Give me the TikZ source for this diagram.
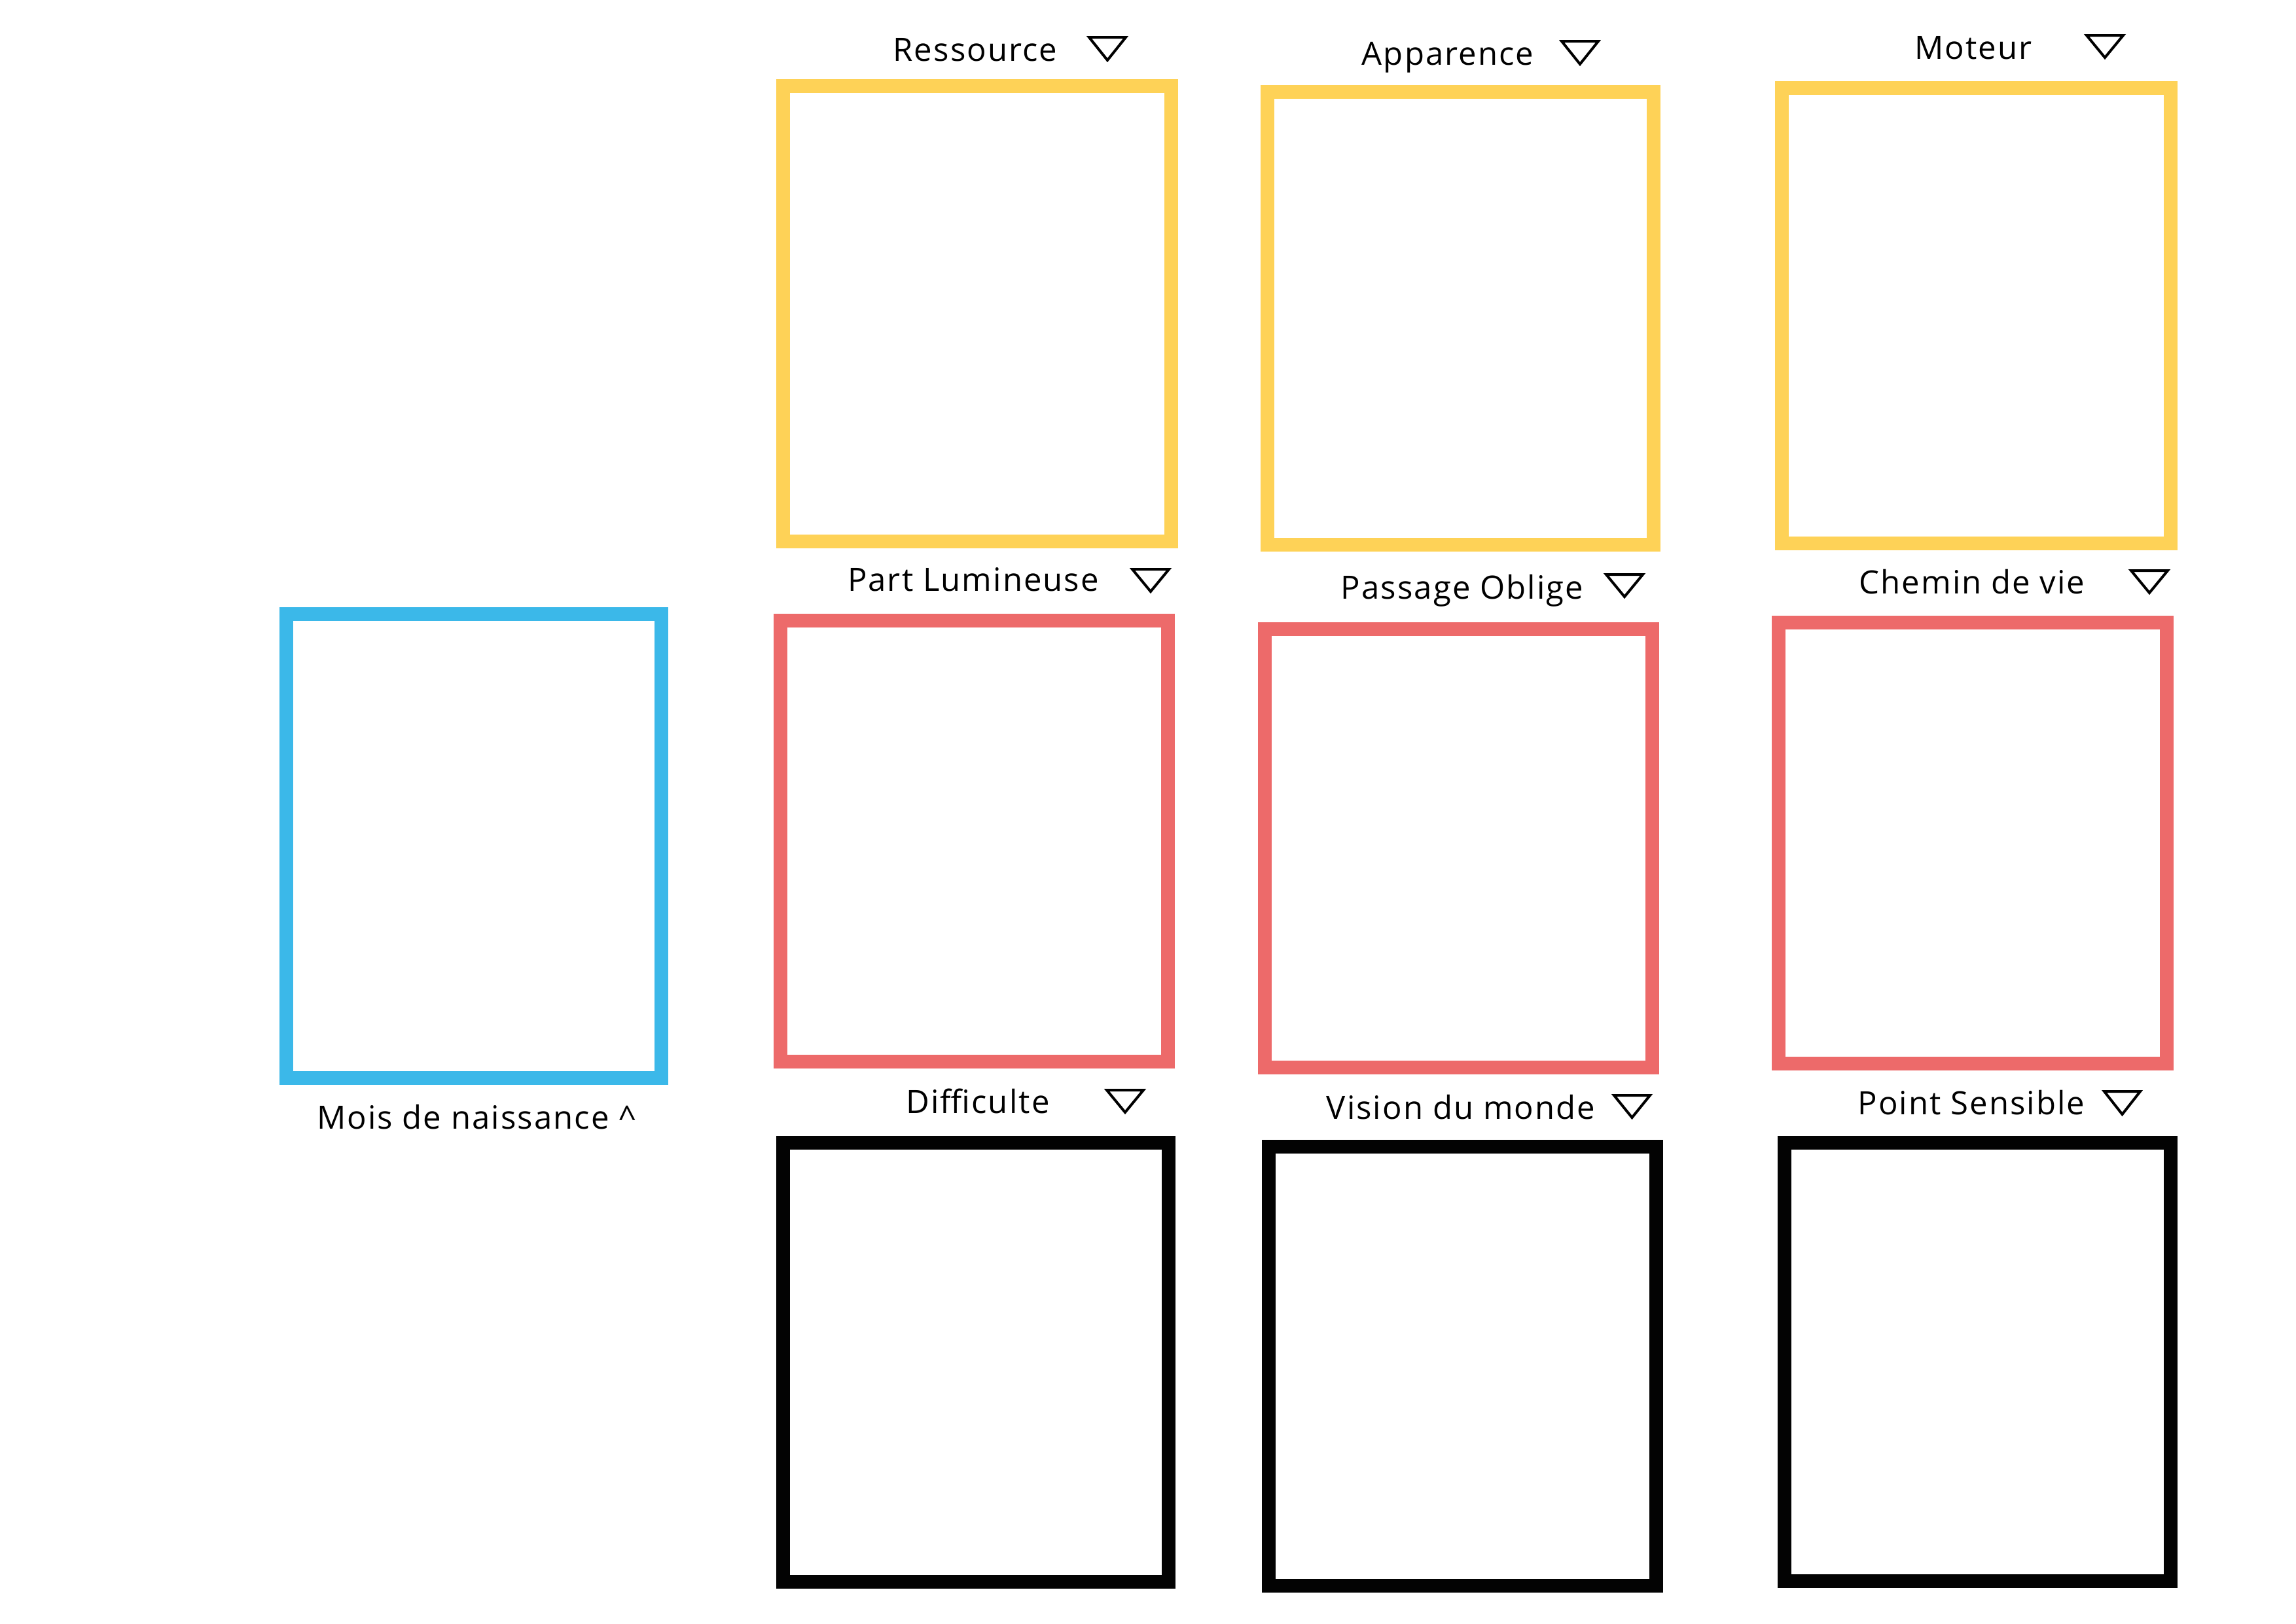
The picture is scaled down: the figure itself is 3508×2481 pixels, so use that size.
\documentclass[tikz,border=0pt]{standalone}
\usepackage{fontspec}
\setmainfont{Open Sans}[LetterSpace=4.2]
\definecolor{cYel}{RGB}{254,210,87}
\definecolor{cRed}{RGB}{237,106,106}
\definecolor{cBlu}{RGB}{59,184,233}
\definecolor{cBlk}{RGB}{3,3,3}
\tikzset{
  card/.style={draw, line width=0.21cm, inner sep=0pt, outer sep=0pt, line join=miter},
  lbl/.style={anchor=base, inner sep=0pt, font=\fontsize{13.95pt}{16pt}\selectfont},
  tri/.style={draw=black, line width=0.04cm, line join=miter}
}
\newcommand{\dtri}[4]{\draw[tri] ({#1+3},{#2+2}) -- ({#3-3},{#2+2}) -- ({(#1+#3)/2},{#4-4}) -- cycle;}
\begin{document}
\begin{tikzpicture}[x=0.01cm,y=-0.01cm]
\useasboundingbox[fill=white] (0,0) rectangle (3508,2481);
% yellow row
\node[card, draw=cYel, minimum width=5.93cm, minimum height=6.96cm] (y1) at (1493,479.5) {};
\node[card, draw=cYel, minimum width=5.90cm, minimum height=6.92cm] (y2) at (2231.5,486.5) {};
\node[card, draw=cYel, minimum width=5.94cm, minimum height=6.96cm] (y3) at (3019.5,482.5) {};
% red row
\node[card, draw=cRed, minimum width=5.92cm, minimum height=6.74cm] (r1) at (1488.5,1285.5) {};
\node[card, draw=cRed, minimum width=5.92cm, minimum height=6.70cm] (r2) at (2228.5,1296.5) {};
\node[card, draw=cRed, minimum width=5.93cm, minimum height=6.74cm] (r3) at (3014,1288.5) {};
% black row
\node[card, draw=cBlk, minimum width=5.89cm, minimum height=6.71cm] (b1) at (1491,2082) {};
\node[card, draw=cBlk, minimum width=5.92cm, minimum height=6.71cm] (b2) at (2234.5,2088) {};
\node[card, draw=cBlk, minimum width=5.90cm, minimum height=6.70cm] (b3) at (3021.5,2081.5) {};
% blue
\node[card, draw=cBlu, minimum width=5.73cm, minimum height=7.09cm] (bl) at (724,1293) {};
% labels
\node[lbl] (tRes) at (1490,93) {Ressource};
\node[lbl] (tApp) at (2212,99) {Apparence};
\node[lbl] (tMot) at (3015,90) {Moteur};
\node[lbl] (tPar) at (1487,903) {Part Lumineuse};
\node[lbl] (tPas) at (2234,915) {Passage Oblige};
\node[lbl] (tChe) at (3013,907) {Chemin de vie};
\node[lbl] (tDif) at (1494,1701) {Difficulte};
\node[lbl] (tVis) at (2232,1710) {Vision du monde};
\node[lbl] (tPoi) at (3012,1703) {Point Sensible};
\node[lbl] (tMoi) at (728,1725) {Mois de naissance \textasciicircum};
% triangles
\dtri{1661}{55}{1723}{96}
\dtri{2383}{61}{2445}{102}
\dtri{3185}{52}{3247}{92}
\dtri{1727}{868}{1789}{908}
\dtri{2451}{876}{2513}{916}
\dtri{3253}{870}{3315}{910}
\dtri{1688}{1664}{1750}{1704}
\dtri{2463}{1672}{2524}{1712}
\dtri{3212}{1666}{3273}{1707}
\end{tikzpicture}
\end{document}
